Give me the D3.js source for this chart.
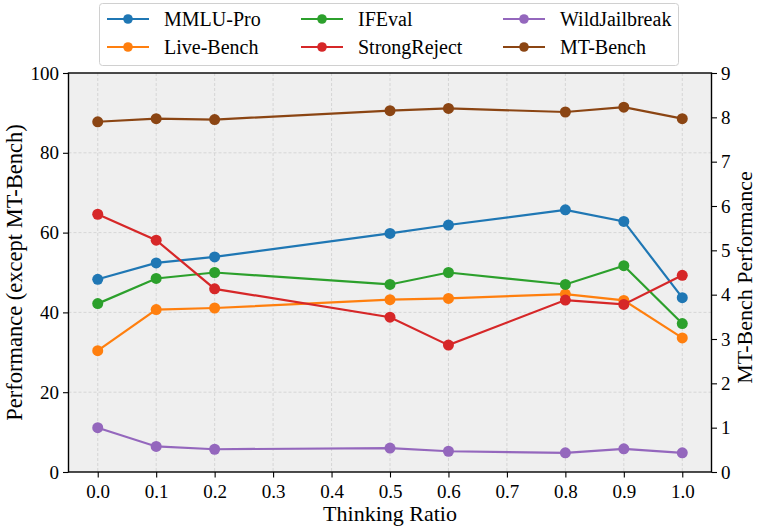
<!DOCTYPE html>
<html lang="en">
<head>
    <meta charset="UTF-8">
    <title>Thinking Ratio vs Performance</title>
    <script src="https://cdn.jsdelivr.net/npm/d3@7.9.0/dist/d3.min.js"></script>
    <style>
        body {
            margin: 0;
            background: #fff;
            overflow: hidden;
        }
        svg {
            display: block;
        }
        svg text {
            font-family: "Liberation Serif", "Times New Roman", serif;
            fill: #000;
        }
        .grid line {
            stroke: #cfcfcf;
            stroke-dasharray: 3, 2;
            stroke-width: 0.8px;
        }
        .axis text {
            font-size: 19px;
        }
        .axis path, .axis line {
            stroke: #000;
            stroke-width: 1.1px;
        }
    </style>
</head>
<body>
<svg id="chart" width="757" height="526"></svg>

<script>
    // --- data ---
    const ratios = [0.0, 0.1, 0.2, 0.5, 0.6, 0.8, 0.9, 1.0];
    const xTicks = [0.0, 0.1, 0.2, 0.3, 0.4, 0.5, 0.6, 0.7, 0.8, 0.9, 1.0];

    const mmluPro      = [48.3, 52.4, 53.9, 59.8, 61.9, 65.7, 62.8, 43.7];
    const liveBench    = [30.4, 40.7, 41.1, 43.2, 43.5, 44.6, 43.0, 33.6];
    const ifEval       = [42.2, 48.5, 50.0, 47.0, 50.0, 47.0, 51.7, 37.2];
    const strongReject = [64.6, 58.1, 45.9, 38.8, 31.8, 43.1, 42.0, 49.3];
    const wildJailbreak = [11.1, 6.4, 5.7, 6.0, 5.2, 4.8, 5.8, 4.8];
    const mtBench      = [7.90, 7.97, 7.95, 8.15, 8.20, 8.12, 8.23, 7.97];

    const series = [
        {name: "MMLU-Pro", values: mmluPro, color: "#1f77b4", right: false},
        {name: "Live-Bench", values: liveBench, color: "#ff7f0e", right: false},
        {name: "IFEval", values: ifEval, color: "#2ca02c", right: false},
        {name: "StrongReject", values: strongReject, color: "#d62728", right: false},
        {name: "WildJailbreak", values: wildJailbreak, color: "#9467bd", right: false},
        {name: "MT-Bench", values: mtBench, color: "#8b4513", right: true}
    ];

    // --- layout ---
    const svg = d3.select("#chart");
    const plotL = 68.5, plotR = 711.5, plotT = 73, plotB = 472;

    const x = d3.scaleLinear().domain([-0.05, 1.05]).range([plotL, plotR]);
    const yL = d3.scaleLinear().domain([0, 100]).range([plotB, plotT]);
    const yR = d3.scaleLinear().domain([0, 9]).range([plotB, plotT]);

    // plot background
    svg.append("rect")
        .attr("x", plotL).attr("y", plotT)
        .attr("width", plotR - plotL).attr("height", plotB - plotT)
        .attr("fill", "#efefef");

    // grid
    const grid = svg.append("g").attr("class", "grid");
    grid.selectAll(".gx").data(xTicks).enter().append("line")
        .attr("x1", d => x(d)).attr("x2", d => x(d))
        .attr("y1", plotT).attr("y2", plotB);
    grid.selectAll(".gy").data(d3.range(20, 100, 20)).enter().append("line")
        .attr("x1", plotL).attr("x2", plotR)
        .attr("y1", d => yL(d)).attr("y2", d => yL(d));

    // lines + markers
    series.forEach(s => {
        const y = s.right ? yR : yL;
        const line = d3.line().x((d, i) => x(ratios[i])).y(d => y(d));
        const g = svg.append("g");
        g.append("path")
            .datum(s.values)
            .attr("d", line)
            .attr("fill", "none")
            .attr("stroke", s.color)
            .attr("stroke-width", 2.2);
        g.selectAll("circle").data(s.values).enter().append("circle")
            .attr("cx", (d, i) => x(ratios[i]))
            .attr("cy", d => y(d))
            .attr("r", 5.5)
            .attr("fill", s.color);
    });

    // axes
    const xAxis = svg.append("g")
        .attr("class", "axis")
        .attr("transform", `translate(0,${plotB})`)
        .call(d3.axisBottom(x).tickValues(xTicks).tickFormat(d3.format(".1f")).tickSize(5.5).tickPadding(7));
    xAxis.select(".domain").remove();

    const yAxisL = svg.append("g")
        .attr("class", "axis")
        .attr("transform", `translate(${plotL},0)`)
        .call(d3.axisLeft(yL).tickValues(d3.range(0, 101, 20)).tickSize(5.5).tickPadding(4));
    yAxisL.select(".domain").remove();

    const yAxisR = svg.append("g")
        .attr("class", "axis")
        .attr("transform", `translate(${plotR},0)`)
        .call(d3.axisRight(yR).tickValues(d3.range(0, 10, 1)).tickSize(5.5).tickPadding(4));
    yAxisR.select(".domain").remove();

    // frame
    svg.append("rect")
        .attr("x", plotL).attr("y", plotT)
        .attr("width", plotR - plotL).attr("height", plotB - plotT)
        .attr("fill", "none")
        .attr("stroke", "#000")
        .attr("stroke-width", 1.4);

    // axis titles
    svg.append("text")
        .attr("x", (plotL + plotR) / 2).attr("y", 521)
        .attr("text-anchor", "middle")
        .attr("font-size", 22)
        .text("Thinking Ratio");

    svg.append("text")
        .attr("transform", `translate(14,${(plotT + plotB) / 2}) rotate(-90)`)
        .attr("text-anchor", "middle")
        .attr("dy", "0.35em")
        .attr("font-size", 22.5)
        .text("Performance (except MT-Bench)");

    svg.append("text")
        .attr("transform", `translate(744,${(plotT + plotB) / 2 + 5}) rotate(-90)`)
        .attr("text-anchor", "middle")
        .attr("dy", "0.35em")
        .attr("font-size", 22)
        .text("MT-Bench Performance");

    // legend
    const legend = svg.append("g");
    legend.append("rect")
        .attr("x", 99.5).attr("y", 3.5)
        .attr("width", 579).attr("height", 62)
        .attr("rx", 3)
        .attr("fill", "#fff")
        .attr("stroke", "#d0d0d0");

    const colX = [107, 301, 503];
    const rowY = [19, 47];
    series.forEach((s, i) => {
        const cx = colX[Math.floor(i / 2)];
        const cy = rowY[i % 2];
        const item = legend.append("g").attr("transform", `translate(${cx},${cy})`);
        item.append("line")
            .attr("x1", 0).attr("x2", 42)
            .attr("stroke", s.color).attr("stroke-width", 2.2);
        item.append("circle")
            .attr("cx", 21).attr("r", 4.8).attr("fill", s.color);
        item.append("text")
            .attr("x", 57).attr("dy", "0.35em")
            .attr("font-size", 20)
            .text(s.name);
    });
</script>
</body>
</html>
